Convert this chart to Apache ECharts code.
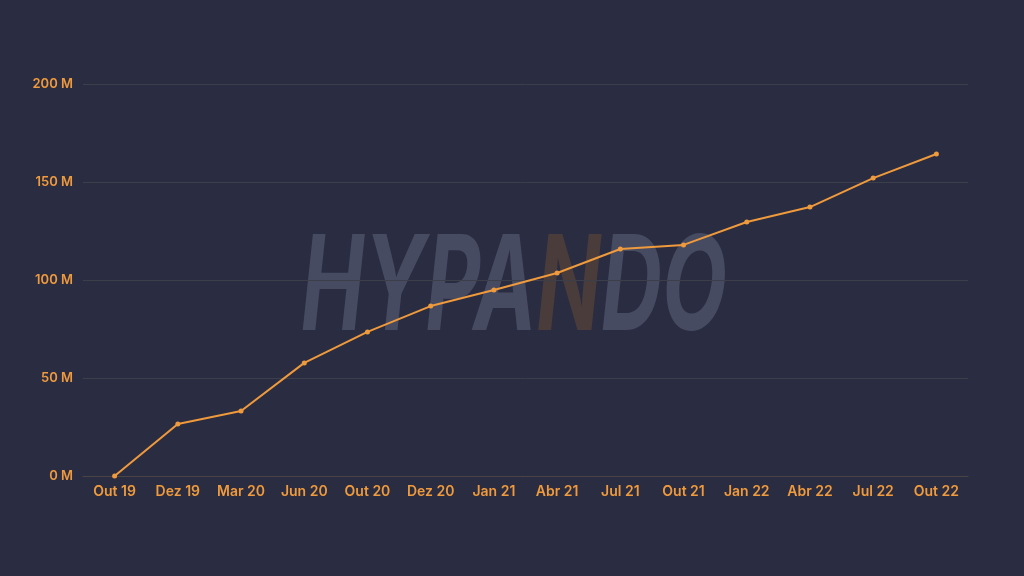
<!DOCTYPE html>
<html>
<head>
<meta charset="utf-8">
<script src="https://cdn.jsdelivr.net/npm/echarts@6/dist/echarts.min.js"></script>
<style>
  html, body { margin: 0; padding: 0; background: #2a2c41; }
  #chart { width: 1024px; height: 576px; }
</style>
</head>
<body>
<div id="chart"></div>
<script>
// categorias (trimestres) e valores em milhões
const months = ['Out 19', 'Dez 19', 'Mar 20', 'Jun 20', 'Out 20', 'Dez 20', 'Jan 21',
  'Abr 21', 'Jul 21', 'Out 21', 'Jan 22', 'Abr 22', 'Jul 22', 'Out 22'];
const values = [0, 26.5, 33.2, 57.7, 73.5, 86.7, 94.9, 103.6, 115.8, 117.9, 129.6, 137.2, 152.0, 164.3];

const orange = '#ef9a3c';
const chart = echarts.init(document.getElementById('chart'));

const wmFont = { fontSize: 132, fontStyle: 'italic', fontWeight: 'bold', fontFamily: 'Inter' };

chart.setOption({
  backgroundColor: '#2a2c41',
  animation: false,
  textStyle: { fontFamily: 'Inter' },
  // marca d'água
  graphic: [{
    type: 'text',
    x: 514,
    y: 290,
    scaleX: 0.64,
    z: 0,
    style: {
      text: '{a|HYPA}{n|N}{a|DO}',
      align: 'center',
      verticalAlign: 'middle',
      rich: {
        a: Object.assign({ fill: '#474b62' }, wmFont),
        n: Object.assign({ fill: '#4a3c3a' }, wmFont)
      }
    }
  }],
  grid: { left: 83, right: 56, top: 84, bottom: 100 },
  xAxis: {
    type: 'category',
    data: months,
    boundaryGap: true,
    axisLine: { lineStyle: { color: '#4b4447' } },
    axisTick: { show: false },
    axisLabel: { color: orange, fontSize: 14, fontWeight: 600, margin: 9 }
  },
  yAxis: {
    type: 'value',
    min: 0,
    max: 200,
    interval: 50,
    axisLabel: { color: orange, fontSize: 13, fontWeight: 600, formatter: '{value} M', margin: 10 },
    splitLine: { lineStyle: { color: '#3c3f4a' } }
  },
  series: [{
    type: 'line',
    data: values,
    z: 5,
    symbol: 'circle',
    symbolSize: 5,
    lineStyle: { color: orange, width: 2 },
    itemStyle: { color: orange }
  }]
});
</script>
</body>
</html>
